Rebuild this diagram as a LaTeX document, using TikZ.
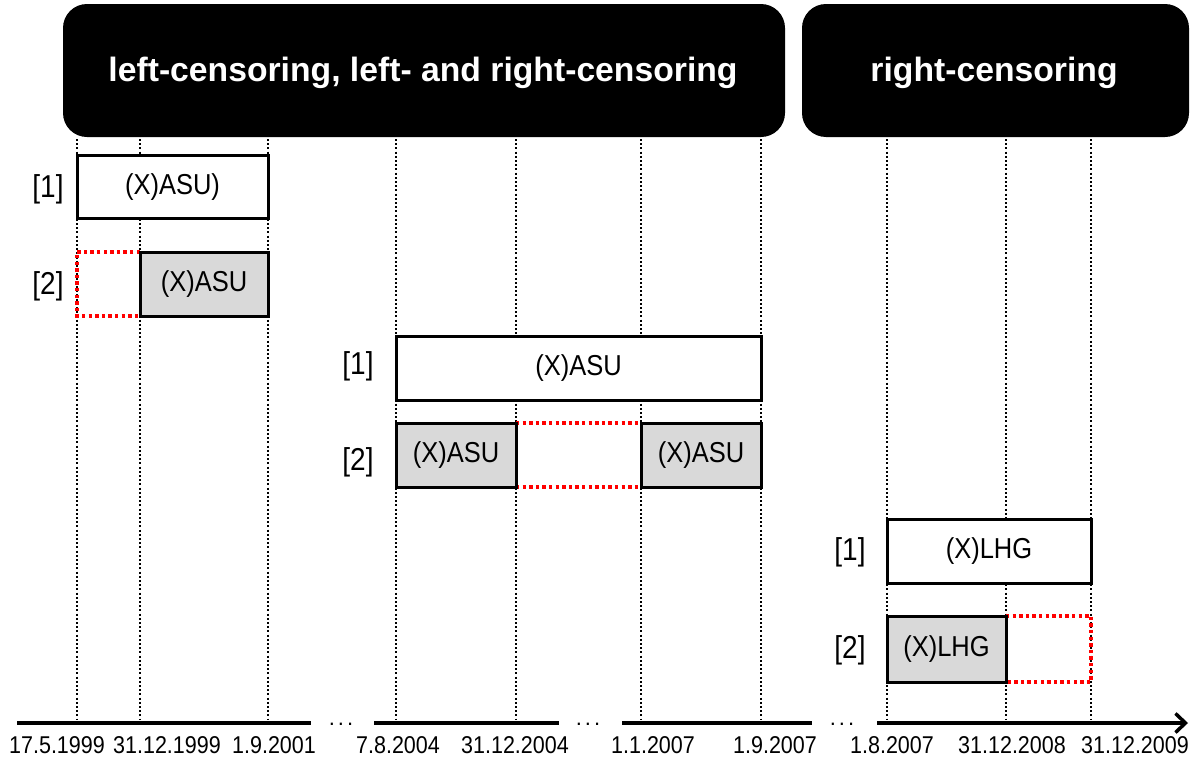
\documentclass[tikz,border=0pt]{standalone}
\usepackage{fontspec}
\setmainfont{Liberation Sans}
\usetikzlibrary{arrows.meta}
\definecolor{boxgray}{HTML}{D9D9D9}
\definecolor{censred}{HTML}{FF0000}
\newcommand{\tallify}[1]{\scalebox{1}[1.13]{#1}}
\begin{document}
\begin{tikzpicture}[x=1pt,y=-1pt,
  hdr/.style={fill=black, draw=none, rounded corners=24pt, inner sep=0pt},
  hdrtext/.style={text=white, font=\fontsize{33.7}{40}\selectfont\bfseries, anchor=base},
  gridline/.style={line width=2.2pt, dash pattern=on 2pt off 2.2pt},
  tbox/.style={draw=black, line width=3pt, fill=white, inner sep=0pt, font=\fontsize{25.5}{30}\selectfont},
  gbox/.style={tbox, fill=boxgray},
  cens/.style={draw=censred, line width=3.5pt, dash pattern=on 3.4pt off 3.2pt},
  lbl/.style={font=\fontsize{28}{32}\selectfont, inner sep=0pt},
  datelbl/.style={font=\fontsize{21.5}{25}\selectfont, anchor=base, inner sep=0pt},
  dots/.style={font=\fontsize{22}{25}\selectfont, anchor=base, inner sep=0pt},
  axisline/.style={line width=4pt}]
\useasboundingbox (0,0) rectangle (1197,763);

% headers
\fill[hdr] (63,4) rectangle (785,137);
\fill[hdr] (802,4) rectangle (1189,137);
\node[hdrtext] (h1) at (423,81) {left-censoring, left- and right-censoring};
\node[hdrtext] (h2) at (994,81) {right-censoring};

% vertical dotted grid lines
\foreach \x in {77,140,268,396,516,641,761,887,1006,1091}
  \draw[gridline] (\x,139) -- (\x,719);

% censored (red dotted) parts
\draw[cens] (140,252) -- (77,252) -- (77,316) -- (140,316);
\draw[cens] (516,423) -- (641,423);
\draw[cens] (516,487) -- (641,487);
\draw[cens] (1006,616) -- (1091,616) -- (1091,682) -- (1006,682);

% group A
\node[tbox, minimum width=191pt, minimum height=63pt] (a1) at (172.5,187) {\tallify{(X)ASU)}};
\node[gbox, minimum width=128pt, minimum height=64pt] (a2) at (204,284) {\tallify{(X)ASU}};
\node[lbl] (la1) at (48,189) {\tallify{[1]}};
\node[lbl] (la2) at (48,286) {\tallify{[2]}};

% group B
\node[tbox, minimum width=365pt, minimum height=64pt] (b1) at (578.5,368) {\tallify{(X)ASU}};
\node[gbox, minimum width=120pt, minimum height=64pt] (b2l) at (456,455) {\tallify{(X)ASU}};
\node[gbox, minimum width=120pt, minimum height=64pt] (b2r) at (701,455) {\tallify{(X)ASU}};
\node[lbl] (lb1) at (358,366) {\tallify{[1]}};
\node[lbl] (lb2) at (358,462) {\tallify{[2]}};

% group C
\node[tbox, minimum width=204pt, minimum height=64pt] (c1) at (989,551.5) {\tallify{(X)LHG}};
\node[gbox, minimum width=119pt, minimum height=66pt] (c2) at (946.5,649) {\tallify{(X)LHG}};
\node[lbl] (lc1) at (850,552) {\tallify{[1]}};
\node[lbl] (lc2) at (850,650) {\tallify{[2]}};

% time axis
\draw[axisline] (17,723) -- (311,723);
\draw[axisline] (374,723) -- (559,723);
\draw[axisline] (622,723) -- (812,723);
\draw[axisline, -{Straight Barb[length=10pt,width=19pt,line width=3.5pt]}] (877,723) -- (1188,723);
\node[dots] (d1) at (341,725) {.\kern3pt.\kern3pt.};
\node[dots] (d2) at (588,725) {.\kern3pt.\kern3pt.};
\node[dots] (d3) at (842,725) {.\kern3pt.\kern3pt.};

% dates
\node[datelbl] (t1) at (57,753) {\tallify{17.5.1999}};
\node[datelbl] (t2) at (167,753) {\tallify{31.12.1999}};
\node[datelbl] (t3) at (274,753) {\tallify{1.9.2001}};
\node[datelbl] (t4) at (398,753) {\tallify{7.8.2004}};
\node[datelbl] (t5) at (515,753) {\tallify{31.12.2004}};
\node[datelbl] (t6) at (653,753) {\tallify{1.1.2007}};
\node[datelbl] (t7) at (775,753) {\tallify{1.9.2007}};
\node[datelbl] (t8) at (892,753) {\tallify{1.8.2007}};
\node[datelbl] (t9) at (1012,753) {\tallify{31.12.2008}};
\node[datelbl] (t10) at (1135,753) {\tallify{31.12.2009}};
\end{tikzpicture}
\end{document}
